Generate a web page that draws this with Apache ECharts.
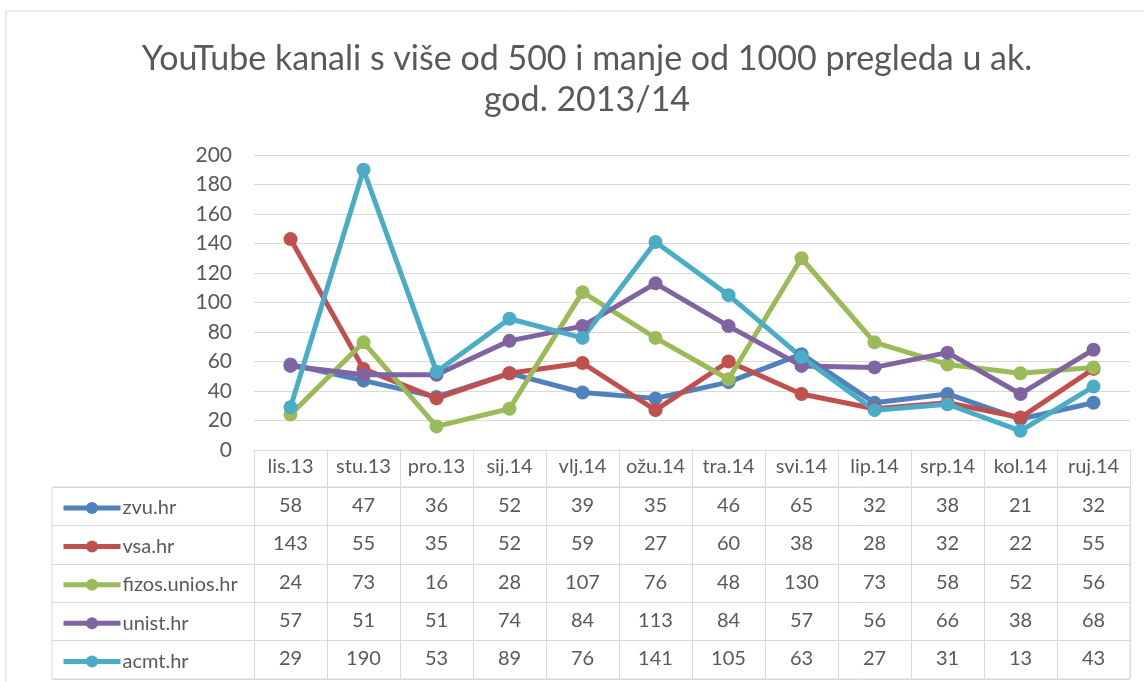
<!DOCTYPE html>
<html>
<head>
<meta charset="utf-8">
<script src="https://cdn.jsdelivr.net/npm/echarts@6/dist/echarts.min.js"></script>
<style>
  html, body { margin: 0; padding: 0; background: #fff; }
  #chart { width: 1144px; height: 682px; }
</style>
</head>
<body>
<div id="chart"></div>
<script>
// podaci s grafa
const months = ['lis.13', 'stu.13', 'pro.13', 'sij.14', 'vlj.14', 'ožu.14', 'tra.14', 'svi.14', 'lip.14', 'srp.14', 'kol.14', 'ruj.14'];
const seriesNames = ['zvu.hr', 'vsa.hr', 'fizos.unios.hr', 'unist.hr', 'acmt.hr'];
const zvu = [58, 47, 36, 52, 39, 35, 46, 65, 32, 38, 21, 32];
const vsa = [143, 55, 35, 52, 59, 27, 60, 38, 28, 32, 22, 55];
const fizos = [24, 73, 16, 28, 107, 76, 48, 130, 73, 58, 52, 56];
const unist = [57, 51, 51, 74, 84, 113, 84, 57, 56, 66, 38, 68];
const acmt = [29, 190, 53, 89, 76, 141, 105, 63, 27, 31, 13, 43];
const yTicks = [0, 20, 40, 60, 80, 100, 120, 140, 160, 180, 200];

const allData = [zvu, vsa, fizos, unist, acmt];
const colors = ['#4F81BD', '#C0504D', '#9BBB59', '#8064A2', '#4BACC6'];
const txt = '#595959';
const border = '#D9D9D9';
const font = 'Lato';
const rowH = 38.4;

const chart = echarts.init(document.getElementById('chart'));

// redovi tablice podataka kao dodatne x osi s pomakom
const rowAxes = allData.map((d, k) => ({
  type: 'category',
  gridIndex: 0,
  data: months,
  position: 'bottom',
  offset: rowH * (k + 1),
  axisLine: { show: false },
  axisTick: { show: false },
  axisLabel: {
    interval: 0,
    margin: 7,
    color: txt,
    fontFamily: font,
    fontSize: 20,
    formatter: (v, i) => String(d[i])
  }
}));

const option = {
  animation: false,
  color: colors,
  title: {
    text: 'YouTube kanali s više od 500 i manje od 1000 pregleda u ak.\ngod. 2013/14',
    left: 582,
    top: 34,
    textAlign: 'center',
    textStyle: {
      color: txt,
      fontFamily: font,
      fontSize: 34,
      fontWeight: 'normal',
      lineHeight: 41
    }
  },
  legend: {
    orient: 'vertical',
    left: 56,
    top: 493,
    itemWidth: 57,
    itemHeight: 15,
    itemGap: 18.4,
    data: seriesNames,
    lineStyle: { width: 5 },
    textStyle: { color: txt, fontFamily: font, fontSize: 20, lineHeight: 20, padding: [0, 0, 0, -3] }
  },
  graphic: [{
    type: 'rect',
    shape: { x: 6, y: 11, width: 1160, height: 700 },
    style: { fill: null, stroke: border, lineWidth: 1 },
    silent: true
  }],
  grid: [
    { left: 254, right: 14, top: 155, bottom: 232 },
    { left: 52, right: 14, top: 487, height: rowH * 5, show: true, borderColor: border, borderWidth: 1 }
  ],
  xAxis: [
    {
      type: 'category',
      gridIndex: 0,
      data: months,
      boundaryGap: true,
      axisLine: { lineStyle: { color: border, width: 1 } },
      axisTick: { show: true, interval: 0, length: 229, lineStyle: { color: border, width: 1 } },
      axisLabel: { interval: 0, margin: 7, color: txt, fontFamily: font, fontSize: 20 }
    },
    ...rowAxes,
    { type: 'value', gridIndex: 1, show: false }
  ],
  yAxis: [
    {
      type: 'value',
      gridIndex: 0,
      min: yTicks[0],
      max: yTicks[yTicks.length - 1],
      interval: yTicks[1] - yTicks[0],
      axisLine: { show: false },
      axisTick: { show: false },
      axisLabel: { margin: 22, color: txt, fontFamily: font, fontSize: 21 },
      splitLine: { lineStyle: { color: border, width: 1 } }
    },
    {
      type: 'category',
      gridIndex: 1,
      data: seriesNames,
      inverse: true,
      boundaryGap: true,
      axisLine: { show: false },
      axisTick: { show: false },
      axisLabel: { show: false },
      splitLine: { show: true, interval: 0, lineStyle: { color: border, width: 1 } }
    }
  ],
  series: allData.map((d, k) => ({
    name: seriesNames[k],
    type: 'line',
    xAxisIndex: 0,
    yAxisIndex: 0,
    data: d,
    symbol: 'circle',
    symbolSize: 14,
    lineStyle: { width: 5, color: colors[k] },
    itemStyle: { color: colors[k] }
  }))
};

chart.setOption(option);
</script>
</body>
</html>
